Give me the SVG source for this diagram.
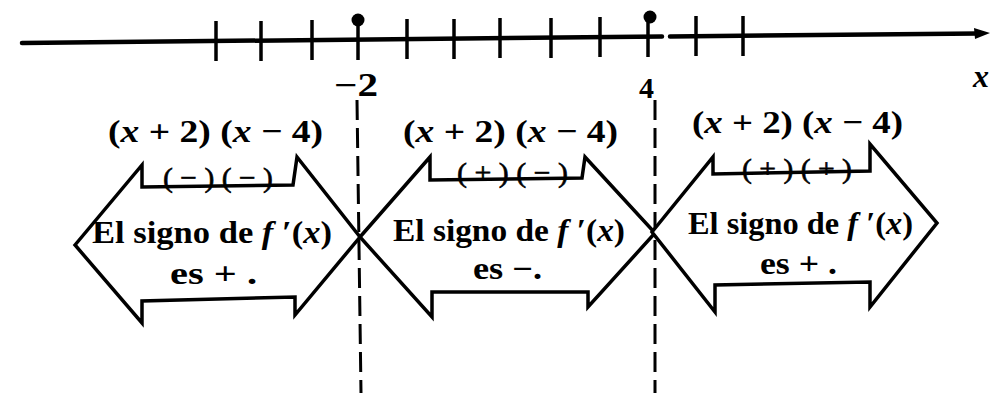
<svg xmlns="http://www.w3.org/2000/svg" width="990" height="393" viewBox="0 0 990 393">
<style>
.ax{stroke:#000;stroke-width:4.5;fill:none;stroke-linecap:round}
.tk{stroke:#000;stroke-width:3.5;fill:none}
.dash{stroke:#000;stroke-width:3;fill:none;stroke-dasharray:20 8}
.box{stroke:#000;stroke-width:3.5;fill:#fff;stroke-linejoin:miter}
.t{font-family:"Liberation Serif","Times New Roman",serif;font-weight:bold;fill:#000}
.s{font-family:"Liberation Serif","Times New Roman",serif;font-weight:normal;fill:#000;stroke:#000;stroke-width:0.6}
.i{font-style:italic}
</style>
<rect width="990" height="393" fill="#fff"/>
<g id="axis">
<line class="ax" x1="22" y1="43" x2="662" y2="36.5"/>
<line class="ax" x1="670" y1="36.4" x2="978" y2="33.5"/>
<polygon points="990,33 974,28 975,39" fill="#000"/>
<g class="tk">
<line x1="216" y1="21" x2="216" y2="61"/>
<line x1="261" y1="21" x2="261" y2="61"/>
<line x1="312" y1="20" x2="312" y2="60"/>
<line x1="358" y1="20" x2="358" y2="60"/>
<line x1="407" y1="19" x2="407" y2="59"/>
<line x1="454" y1="19" x2="454" y2="59"/>
<line x1="500" y1="18" x2="500" y2="58"/>
<line x1="551" y1="18" x2="551" y2="58"/>
<line x1="600" y1="17" x2="600" y2="57"/>
<line x1="648" y1="17" x2="648" y2="57"/>
<line x1="696" y1="16" x2="696" y2="56"/>
<line x1="743" y1="16" x2="743" y2="56"/>
</g>
<circle cx="358" cy="20" r="6.5" fill="#000"/>
<circle cx="650" cy="17" r="6.5" fill="#000"/>
<text class="t" x="334" y="96" font-size="33" textLength="44" lengthAdjust="spacingAndGlyphs">−2</text>
<text class="t" x="639" y="98" font-size="30">4</text>
<text class="t i" x="973" y="87" font-size="32">x</text>
</g>
<g id="dividers">
<line class="dash" x1="357" y1="100" x2="361" y2="393"/>
<line class="dash" x1="655" y1="100" x2="655" y2="393"/>
</g>
<g id="region1">
<polygon class="box" points="75,245 142,165 142,187 293,185 297,157 360,237 295,315 295,297 142,301 142,323"/>
<text class="t" x="108" y="142" font-size="32" textLength="215" lengthAdjust="spacingAndGlyphs">(<tspan class="i">x</tspan> + 2) (<tspan class="i">x</tspan> − 4)</text>
<text class="s" x="163" y="187" font-size="28" textLength="110" lengthAdjust="spacingAndGlyphs">( − ) ( − )</text>
<text class="t" x="92" y="243" font-size="31" textLength="240" lengthAdjust="spacingAndGlyphs">El signo de <tspan class="i">f</tspan> ′(<tspan class="i">x</tspan>)</text>
<text class="t" x="170" y="284" font-size="31" textLength="87" lengthAdjust="spacingAndGlyphs">es + .</text>
</g>
<g id="region2">
<polygon class="box" points="360,237 430,157 430,180 582,178 585,157 655,233 588,307 588,292 432,292 432,317"/>
<text class="t" x="403" y="142" font-size="32" textLength="215" lengthAdjust="spacingAndGlyphs">(<tspan class="i">x</tspan> + 2) (<tspan class="i">x</tspan> − 4)</text>
<text class="s" x="457" y="182" font-size="28" textLength="111" lengthAdjust="spacingAndGlyphs">( + ) ( − )</text>
<text class="t" x="393" y="241" font-size="31" textLength="232" lengthAdjust="spacingAndGlyphs">El signo de <tspan class="i">f</tspan> ′(<tspan class="i">x</tspan>)</text>
<text class="t" x="473" y="279" font-size="31" textLength="69" lengthAdjust="spacingAndGlyphs">es −.</text>
</g>
<g id="region3">
<polygon class="box" points="652,232 713,157 713,174 870,171 870,144 937,223 870,307 870,282 715,285 715,312"/>
<text class="t" x="692" y="133" font-size="32" textLength="211" lengthAdjust="spacingAndGlyphs">(<tspan class="i">x</tspan> + 2) (<tspan class="i">x</tspan> − 4)</text>
<text class="s" x="742" y="178" font-size="28" textLength="110" lengthAdjust="spacingAndGlyphs">( + ) ( + )</text>
<text class="t" x="688" y="234" font-size="31" textLength="225" lengthAdjust="spacingAndGlyphs">El signo de <tspan class="i">f</tspan> ′(<tspan class="i">x</tspan>)</text>
<text class="t" x="760" y="274" font-size="31" textLength="77" lengthAdjust="spacingAndGlyphs">es + .</text>
</g>
</svg>
